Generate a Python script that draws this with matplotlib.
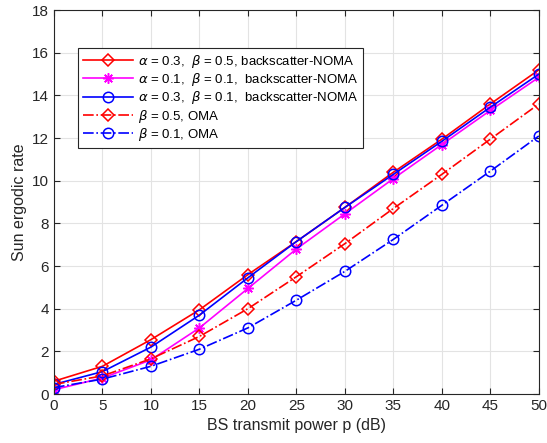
import numpy as np
import matplotlib
matplotlib.use("Agg")
import matplotlib.pyplot as plt

plt.rcParams['font.family'] = ['Liberation Sans', 'DejaVu Sans']
plt.rcParams['mathtext.fontset'] = 'dejavusans'

# -----------------------------
# Data
# -----------------------------
power_db = [0, 5, 10, 15, 20, 25, 30, 35, 40, 45, 50]

noma_a03_b05 = [0.6, 1.3, 2.55, 3.95, 5.6, 7.15, 8.75, 10.4, 11.95, 13.6, 15.2]
noma_a01_b01 = [0.2, 0.75, 1.6, 3.1, 4.95, 6.8, 8.45, 10.1, 11.7, 13.3, 14.85]
noma_a03_b01 = [0.45, 1.05, 2.2, 3.7, 5.45, 7.15, 8.75, 10.3, 11.85, 13.45, 15.0]
oma_b05 = [0.45, 0.85, 1.65, 2.7, 4.0, 5.5, 7.05, 8.7, 10.3, 11.95, 13.6]
oma_b01 = [0.3, 0.7, 1.3, 2.1, 3.1, 4.4, 5.75, 7.25, 8.85, 10.45, 12.1]

labels = [
    r"$\alpha$ = 0.3,  $\beta$ = 0.5, backscatter-NOMA",
    r"$\alpha$ = 0.1,  $\beta$ = 0.1,  backscatter-NOMA",
    r"$\alpha$ = 0.3,  $\beta$ = 0.1,  backscatter-NOMA",
    r"$\beta$ = 0.5, OMA",
    r"$\beta$ = 0.1, OMA",
]

# -----------------------------
# Plot
# -----------------------------
fig = plt.figure(figsize=(5.47, 4.43), dpi=100)
ax = fig.add_axes([0.0987, 0.1106, 0.8863, 0.8664])

mk = dict(markerfacecolor='none', markeredgewidth=1.1, linewidth=1.2)
ax.plot(power_db, noma_a03_b05, '-', color='#ff0000', marker='D', markersize=6.5, label=labels[0], **mk)
ax.plot(power_db, noma_a01_b01, '-', color='#ff00ff', marker=(8, 2, 0), markersize=7.5, label=labels[1], **mk)
ax.plot(power_db, noma_a03_b01, '-', color='#0000ff', marker='o', markersize=7.5, label=labels[2], **mk)
ax.plot(power_db, oma_b05, '-.', color='#ff0000', marker='D', markersize=6.5, label=labels[3], **mk)
ax.plot(power_db, oma_b01, '-.', color='#0000ff', marker='o', markersize=7.5, label=labels[4], **mk)

ax.set_xlim(0, 50)
ax.set_ylim(0, 18)
ax.set_xticks(np.arange(0, 51, 5))
ax.set_yticks(np.arange(0, 19, 2))
ax.grid(True, color='#e3e3e3', linewidth=0.8)
ax.set_axisbelow(True)
ax.tick_params(direction='in', colors='#262626', labelsize=11, length=4,
               top=True, right=True)
for s in ax.spines.values():
    s.set_color('#262626')
    s.set_linewidth(0.8)

ax.set_xlabel("BS transmit power p (dB)", fontsize=11.5, color='#262626')
ax.set_ylabel("Sun ergodic rate", fontsize=11.5, color='#262626')

leg = ax.legend(loc='upper left', bbox_to_anchor=(78 / 547, 1 - 48 / 443),
                bbox_transform=fig.transFigure, fontsize=9.5, fancybox=False,
                framealpha=1, edgecolor='#262626', handlelength=3.8,
                borderpad=0.35, labelspacing=0.1, handletextpad=0.4,
                borderaxespad=0)
leg.get_frame().set_linewidth(0.8)

fig.savefig("out.png", dpi=100)
